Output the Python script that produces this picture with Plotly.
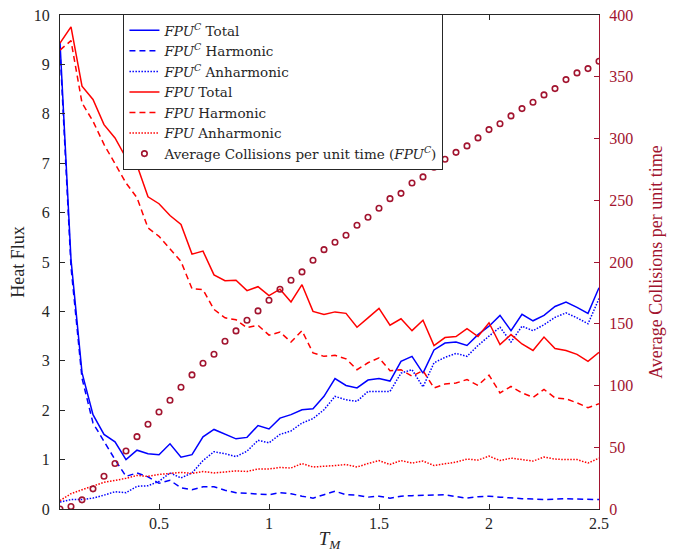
import plotly.graph_objects as go

# Temperature T_M (x values)
T = [0.05, 0.10, 0.15, 0.20, 0.25, 0.30, 0.35, 0.40, 0.45, 0.50,
     0.55, 0.60, 0.65, 0.70, 0.75, 0.80, 0.85, 0.90, 0.95, 1.00,
     1.05, 1.10, 1.15, 1.20, 1.25, 1.30, 1.35, 1.40, 1.45, 1.50,
     1.55, 1.60, 1.65, 1.70, 1.75, 1.80, 1.85, 1.90, 1.95, 2.00,
     2.05, 2.10, 2.15, 2.20, 2.25, 2.30, 2.35, 2.40, 2.45, 2.50]

fpuc_total = [9.45, 5.05, 2.76, 1.91, 1.51, 1.36, 1.00, 1.19, 1.12, 1.10,
              1.32, 1.05, 1.10, 1.46, 1.61, 1.51, 1.42, 1.45, 1.69, 1.62,
              1.84, 1.91, 2.01, 2.03, 2.28, 2.64, 2.50, 2.45, 2.61, 2.64,
              2.59, 2.99, 3.09, 2.75, 3.22, 3.36, 3.38, 3.31, 3.53, 3.70,
              3.92, 3.61, 3.94, 3.81, 3.92, 4.10, 4.19, 4.08, 3.96, 4.48]

fpuc_harm = [9.30, 4.90, 2.65, 1.74, 1.37, 1.00, 0.66, 0.73, 0.65, 0.52,
             0.58, 0.43, 0.39, 0.45, 0.45, 0.38, 0.33, 0.32, 0.30, 0.29,
             0.33, 0.31, 0.26, 0.22, 0.29, 0.36, 0.29, 0.28, 0.24, 0.26,
             0.22, 0.26, 0.27, 0.28, 0.28, 0.29, 0.25, 0.22, 0.25, 0.26,
             0.24, 0.22, 0.21, 0.20, 0.19, 0.20, 0.21, 0.20, 0.20, 0.19]

fpuc_anharm = [0.14, 0.19, 0.19, 0.22, 0.28, 0.35, 0.33, 0.46, 0.47, 0.56,
               0.73, 0.63, 0.73, 0.98, 1.16, 1.12, 1.06, 1.17, 1.39, 1.34,
               1.51, 1.58, 1.74, 1.83, 2.01, 2.28, 2.21, 2.18, 2.38, 2.38,
               2.38, 2.75, 2.82, 2.47, 2.96, 3.07, 3.15, 3.09, 3.31, 3.50,
               3.68, 3.38, 3.70, 3.61, 3.73, 3.88, 3.97, 3.87, 3.75, 4.26]

fpu_total = [9.43, 9.76, 8.56, 8.29, 7.78, 7.51, 7.11, 6.96, 6.32, 6.18,
             5.94, 5.76, 5.16, 5.22, 4.74, 4.62, 4.63, 4.42, 4.50, 4.32,
             4.45, 4.19, 4.54, 4.00, 3.94, 3.99, 3.96, 3.68, 3.87, 4.06,
             3.72, 3.85, 3.61, 3.82, 3.31, 3.47, 3.49, 3.65, 3.49, 3.77,
             3.33, 3.53, 3.34, 3.21, 3.48, 3.25, 3.21, 3.13, 2.99, 3.17]

fpu_harm = [9.29, 9.48, 8.22, 7.85, 7.38, 6.98, 6.60, 6.30, 5.69, 5.52,
            5.27, 5.01, 4.46, 4.44, 4.04, 3.87, 3.83, 3.67, 3.72, 3.52,
            3.58, 3.38, 3.61, 3.16, 3.09, 3.11, 3.04, 2.82, 2.96, 3.06,
            2.80, 2.82, 2.69, 2.80, 2.45, 2.53, 2.55, 2.62, 2.50, 2.71,
            2.35, 2.48, 2.35, 2.26, 2.42, 2.25, 2.23, 2.15, 2.05, 2.13]

fpu_anharm = [0.17, 0.31, 0.39, 0.46, 0.54, 0.58, 0.62, 0.68, 0.66, 0.70,
              0.72, 0.74, 0.72, 0.76, 0.73, 0.75, 0.77, 0.76, 0.81, 0.81,
              0.84, 0.83, 0.92, 0.85, 0.86, 0.88, 0.90, 0.85, 0.92, 0.98,
              0.90, 0.98, 0.93, 0.97, 0.88, 0.92, 0.95, 1.01, 0.99, 1.07,
              0.98, 1.03, 1.00, 0.97, 1.05, 1.01, 1.00, 1.00, 0.93, 1.03]

collisions = [0, 2, 7.4, 16.3, 26.5, 36.8, 47, 58.6, 68.6, 78.6,
              88, 98.6, 108.6, 118, 125.3, 135.8, 144.2, 152.8, 160.4, 169,
              177.9, 185.2, 192, 201.4, 210, 216, 221.6, 229.7, 236.2, 243.5,
              251.3, 255.6, 264, 268.9, 276.7, 283.2, 288.8, 294, 300.5, 307.2,
              312, 318.3, 324.2, 329.3, 335.3, 340.4, 347.7, 353.1, 356.6, 362.5]

x_ticks = [0.5, 1, 1.5, 2, 2.5]
x_ticklabels = ["0.5", "1", "1.5", "2", "2.5"]
y_ticks = [0, 1, 2, 3, 4, 5, 6, 7, 8, 9, 10]
y2_ticks = [0, 50, 100, 150, 200, 250, 300, 350, 400]

BLUE = "#0000FF"
RED = "#FF0000"
CRIM = "#A2142F"
AX = "#262626"
FONT = "Liberation Serif"
LEGFONT = "DejaVu Serif"
DASH = "6px,4px"
DOT = "1.5px,1.5px"
FPUC = "<i>FPU</i><sup><i>C</i></sup>"
FPU = "<i>FPU</i>"

fig = go.Figure()
series = [
    (fpuc_total, FPUC + " Total", BLUE, "solid"),
    (fpuc_harm, FPUC + " Harmonic", BLUE, DASH),
    (fpuc_anharm, FPUC + " Anharmonic", BLUE, DOT),
    (fpu_total, FPU + " Total", RED, "solid"),
    (fpu_harm, FPU + " Harmonic", RED, DASH),
    (fpu_anharm, FPU + " Anharmonic", RED, DOT),
]
for ys, name, col, dash in series:
    fig.add_trace(go.Scatter(x=T, y=ys, name=name, mode="lines",
                             line=dict(color=col, width=1.5, dash=dash)))

fig.add_trace(go.Scatter(x=T, y=collisions, yaxis="y2", mode="markers",
                         name="Average Collisions per unit time (" + FPUC + ")",
                         marker=dict(symbol="circle-open", size=5.5, color=CRIM,
                                     line=dict(width=1.6, color=CRIM))))

fig.update_layout(
    width=675, height=546,
    margin=dict(l=51.5, r=84, t=7.4, b=45.1, autoexpand=False),
    paper_bgcolor="white", plot_bgcolor="white",
    font=dict(family=FONT, size=16, color="black"),
    showlegend=True,
    legend=dict(x=0.1177, y=1.002, xanchor="left", yanchor="top",
                bgcolor="white", bordercolor=AX, borderwidth=1,
                font=dict(family=LEGFONT, size=13.5, color=AX),
                tracegroupgap=0, itemwidth=30),
    xaxis=dict(range=[0.05, 2.5], tickvals=x_ticks, ticktext=x_ticklabels,
               ticks="inside", ticklen=5, tickcolor=AX, showline=True,
               linecolor=AX, linewidth=1, mirror="ticks", showgrid=False,
               zeroline=False, tickfont=dict(size=16, color=AX), automargin=False,
               ticklabeloverflow="allow",
               title=dict(text="<i>T</i><sub><i>M</i></sub>", font=dict(size=19, color=AX),
                          standoff=0)),
    yaxis=dict(range=[0, 10], tickvals=y_ticks, ticks="inside", ticklen=5,
               tickcolor=AX, showline=True, linecolor=AX, linewidth=1,
               showgrid=False, zeroline=False, tickfont=dict(size=16, color=AX),
               automargin=False, ticklabelstandoff=6, ticklabeloverflow="allow",
               title=dict(text="Heat Flux", font=dict(size=18, color=AX), standoff=10)),
    yaxis2=dict(range=[0, 400], tickvals=y2_ticks, overlaying="y", side="right",
                ticks="inside", ticklen=5, tickcolor=CRIM, showline=True,
                linecolor=CRIM, linewidth=1, showgrid=False, zeroline=False,
                tickfont=dict(size=16, color=CRIM), automargin=False,
                ticklabelstandoff=6, ticklabeloverflow="allow",
                title=dict(text="Average Collisions per unit time",
                           font=dict(size=18, color=CRIM), standoff=17)),
)

fig.write_html("out.html")
